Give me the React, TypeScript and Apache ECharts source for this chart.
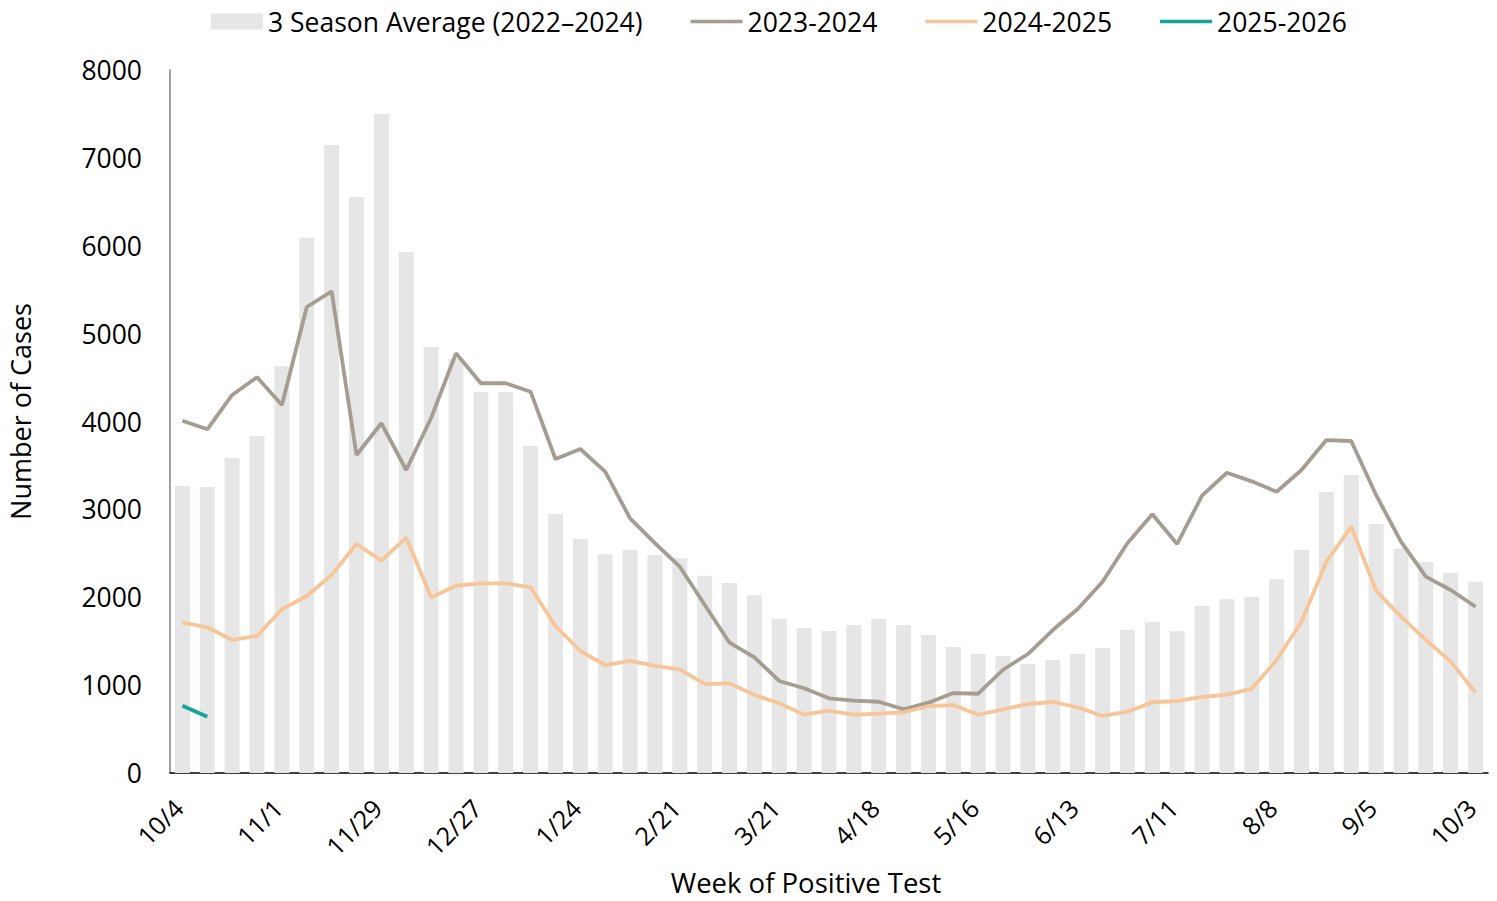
import React, { useEffect, useRef } from "react";
import * as echarts from "echarts";

const weeks = [
  "10/4", "10/11", "10/18", "10/25", "11/1", "11/8", "11/15", "11/22", "11/29", "12/6",
  "12/13", "12/20", "12/27", "1/3", "1/10", "1/17", "1/24", "1/31", "2/7", "2/14",
  "2/21", "2/28", "3/7", "3/14", "3/21", "3/28", "4/4", "4/11", "4/18", "4/25",
  "5/2", "5/9", "5/16", "5/23", "5/30", "6/6", "6/13", "6/20", "6/27", "7/4",
  "7/11", "7/18", "7/25", "8/1", "8/8", "8/15", "8/22", "8/29", "9/5", "9/12",
  "9/19", "9/26", "10/3",
];

const avg3Season = [
  3266, 3255, 3585, 3835, 4628, 6092, 7147, 6555, 7499, 5929,
  4848, 4710, 4336, 4336, 3721, 2947, 2663, 2489, 2541, 2481,
  2443, 2245, 2162, 2022, 1756, 1650, 1616, 1684, 1756, 1684,
  1570, 1434, 1354, 1331, 1240, 1286, 1354, 1422, 1627, 1718,
  1613, 1900, 1977, 2006, 2204, 2538, 3198, 3391, 2834, 2553,
  2401, 2279, 2177,
];

const season2023_2024 = [
  4009, 3911, 4302, 4503, 4188, 5303, 5482, 3619, 3980, 3448,
  4040, 4776, 4435, 4435, 4339, 3573, 3687, 3429, 2898, 2617,
  2348, 1915, 1483, 1317, 1047, 964, 850, 823, 811, 725,
  800, 910, 902, 1175, 1354, 1627, 1866, 2177, 2614, 2944,
  2606, 3156, 3417, 3319, 3201, 3448, 3789, 3778, 3164, 2632,
  2234, 2083, 1892,
];

const season2024_2025 = [
  1710, 1658, 1514, 1559, 1863, 2014, 2253, 2606, 2416, 2678,
  2000, 2131, 2159, 2159, 2113, 1673, 1388, 1229, 1275, 1218,
  1180, 1013, 1020, 888, 793, 663, 709, 663, 675, 691,
  762, 774, 663, 725, 785, 808, 748, 649, 698, 805,
  819, 865, 891, 958, 1286, 1722, 2404, 2803, 2075, 1779,
  1514, 1267, 914,
];

const season2025_2026 = [766, 641];

const yTicks = { min: 0, max: 8000, interval: 1000 };

const FONT = "'Open Sans', 'Noto Sans', sans-serif";
const LINE_ICON = "path://M0,0H52V3.5H0Z";

export default function App() {
  const ref = useRef<HTMLDivElement>(null);

  useEffect(() => {
    if (!ref.current) return;
    const chart = echarts.init(ref.current, null, { renderer: "svg" });
    const teal = weeks.map((_, i) => (i < season2025_2026.length ? season2025_2026[i] : null));
    chart.setOption({
      animation: false,
      textStyle: { fontFamily: FONT, color: "#000" },
      legend: {
        left: 206,
        top: 3,
        itemWidth: 52,
        itemHeight: 16,
        itemGap: 48,
        textStyle: { fontFamily: FONT, fontSize: 26.5, color: "#000" },
        data: [
          { name: "3 Season Average (2022–2024)", icon: "rect" },
          { name: "2023-2024", icon: LINE_ICON },
          { name: "2024-2025", icon: LINE_ICON },
          { name: "2025-2026", icon: LINE_ICON },
        ],
      },
      grid: {
        left: 170,
        right: 9,
        top: 70,
        bottom: 128,
        containLabel: false,
        outerBoundsMode: "none",
      },
      xAxis: {
        type: "category",
        data: weeks,
        boundaryGap: true,
        name: "Week of Positive Test",
        nameLocation: "middle",
        nameGap: 95,
        nameTextStyle: {
          fontFamily: FONT,
          fontSize: 27.5,
          color: "#000",
          padding: [0, 46, 0, 0],
        },
        axisLine: { show: true, lineStyle: { color: "#000", width: 1.5 } },
        axisTick: { show: false },
        axisLabel: {
          interval: 3,
          rotate: 45,
          margin: 26,
          padding: [0, 6, 0, 0],
          fontFamily: FONT,
          fontSize: 25,
          color: "#000",
        },
        splitLine: { show: false },
      },
      yAxis: {
        type: "value",
        min: yTicks.min,
        max: yTicks.max,
        interval: yTicks.interval,
        name: "Number of Cases",
        nameLocation: "middle",
        nameGap: 136,
        nameTextStyle: {
          fontFamily: FONT,
          fontSize: 27,
          color: "#000",
          padding: [0, 0, 0, 20],
        },
        axisLine: { show: true, lineStyle: { color: "#808080", width: 1.5 } },
        axisTick: { show: false },
        axisLabel: {
          fontFamily: FONT,
          fontSize: 26.5,
          color: "#000",
          margin: 28,
          formatter: (v: number) => String(v),
        },
        splitLine: { show: false },
      },
      series: [
        {
          name: "3 Season Average (2022–2024)",
          type: "bar",
          data: avg3Season,
          barWidth: 15,
          itemStyle: { color: "#E6E6E6" },
        },
        {
          name: "2023-2024",
          type: "line",
          data: season2023_2024,
          symbol: "none",
          lineStyle: { color: "#A39D92", width: 3.8 },
          itemStyle: { color: "#A39D92" },
        },
        {
          name: "2024-2025",
          type: "line",
          data: season2024_2025,
          symbol: "none",
          lineStyle: { color: "#F7C698", width: 3.8 },
          itemStyle: { color: "#F7C698" },
        },
        {
          name: "2025-2026",
          type: "line",
          data: teal,
          symbol: "none",
          lineStyle: { color: "#17A398", width: 3.8 },
          itemStyle: { color: "#17A398" },
        },
      ],
    });
    return () => chart.dispose();
  }, []);

  return (
    <div
      ref={ref}
      style={{ position: "fixed", left: 0, top: 0, width: 1497, height: 901, background: "#fff" }}
    />
  );
}
